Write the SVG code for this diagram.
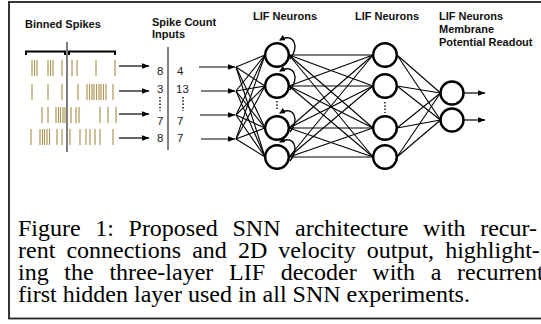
<svg xmlns="http://www.w3.org/2000/svg" width="541" height="324" viewBox="0 0 541 324">
<style>
.t{font-family:"Liberation Sans",Arial,sans-serif;font-weight:bold;font-size:11px;fill:#111}
.n{font-family:"Liberation Sans",Arial,sans-serif;font-size:11.5px;fill:#222}
.cap{font-family:"Liberation Serif","Times New Roman",serif;font-size:24px;fill:#000}
.c{fill:#fff;stroke:#000;stroke-width:2.4}
.e{stroke:#000;stroke-width:1.1;fill:none}
.a{stroke:#000;stroke-width:1.2;fill:none;marker-end:url(#ah)}
.r{stroke:#000;stroke-width:1.3;fill:none;marker-end:url(#rh)}
.d{stroke:#222;stroke-width:1.6;stroke-dasharray:1.5 1.8;fill:none}
</style>
<defs>
<marker id="ah" markerUnits="userSpaceOnUse" markerWidth="8" markerHeight="6" refX="7.5" refY="3" orient="auto"><path d="M0,0 L8,3 L0,6 z" fill="#000"/></marker>
<marker id="rh" markerUnits="userSpaceOnUse" markerWidth="6" markerHeight="6" refX="5" refY="3" orient="auto"><path d="M0,0 L6,3 L0,6 z" fill="#000"/></marker>
<g id="k"><rect x="-0.7" y="0" width="1.4" height="16" fill="#f0dfad"/><line x1="0" y1="0" x2="0" y2="16" stroke="#8a7546" stroke-width="0.7"/></g>
</defs>
<rect x="9" y="2" width="540" height="316.5" fill="#fff" stroke="#222" stroke-width="1.8"/>

<g id="titles">
<text class="t" x="25" y="28" font-size="12">Binned Spikes</text>
<text class="t" x="152" y="26">Spike Count</text>
<text class="t" x="152" y="38">Inputs</text>
<text class="t" x="253" y="20">LIF Neurons</text>
<text class="t" x="355" y="20">LIF Neurons</text>
<text class="t" x="439" y="20">LIF Neurons</text>
<text class="t" x="439" y="33">Membrane</text>
<text class="t" x="439" y="46">Potential Readout</text>
</g>

<g id="binned-spikes">
<path d="M26,55 V51.5 H65 V55 M69,55 V51.5 H115 V55" stroke="#000" stroke-width="2" fill="none"/>
<line x1="67" y1="42" x2="67" y2="152" stroke="#000" stroke-width="1"/>
<g id="row1">
<use href="#k" x="32" y="60"/><use href="#k" x="34.5" y="60"/><use href="#k" x="37" y="60"/>
<use href="#k" x="48" y="60"/><use href="#k" x="50.5" y="60"/><use href="#k" x="53" y="60"/>
<use href="#k" x="62" y="60"/><use href="#k" x="72" y="60"/><use href="#k" x="77" y="60"/><use href="#k" x="96" y="60"/><use href="#k" x="115" y="60"/>
</g>
<g id="row2">
<use href="#k" x="32" y="84"/><use href="#k" x="48" y="84"/><use href="#k" x="62" y="84"/><use href="#k" x="78" y="84"/>
<use href="#k" x="87" y="84"/><use href="#k" x="89.5" y="84"/><use href="#k" x="92" y="84"/><use href="#k" x="94" y="84"/><use href="#k" x="96.5" y="84"/><use href="#k" x="99" y="84"/><use href="#k" x="101" y="84"/><use href="#k" x="103.5" y="84"/><use href="#k" x="106" y="84"/>
<use href="#k" x="113" y="84"/>
</g>
<g id="row3">
<use href="#k" x="42" y="107"/><use href="#k" x="48" y="107"/>
<use href="#k" x="56" y="107"/><use href="#k" x="58.5" y="107"/><use href="#k" x="60.5" y="107"/><use href="#k" x="63" y="107"/><use href="#k" x="65" y="107"/>
<use href="#k" x="71" y="107"/><use href="#k" x="76" y="107"/><use href="#k" x="79" y="107"/><use href="#k" x="100" y="107"/><use href="#k" x="108" y="107"/><use href="#k" x="116" y="107"/>
</g>
<g id="row4">
<use href="#k" x="31" y="129"/>
<use href="#k" x="40" y="129"/><use href="#k" x="42.5" y="129"/><use href="#k" x="44.5" y="129"/><use href="#k" x="47" y="129"/><use href="#k" x="49.5" y="129"/>
<use href="#k" x="57" y="129"/><use href="#k" x="62" y="129"/><use href="#k" x="70" y="129"/><use href="#k" x="80" y="129"/><use href="#k" x="86" y="129"/><use href="#k" x="90" y="129"/><use href="#k" x="95" y="129"/><use href="#k" x="100" y="129"/><use href="#k" x="113" y="129"/>
</g>
</g>

<g id="spike-counts">
<line x1="168" y1="47" x2="168" y2="150" stroke="#555" stroke-width="1.5"/>
<text class="n" x="163.5" y="75" text-anchor="end">8</text><text class="n" x="177" y="75">4</text>
<text class="n" x="163.5" y="93" text-anchor="end">3</text><text class="n" x="176" y="93">13</text>
<line class="d" x1="160" y1="97" x2="160" y2="111"/><line class="d" x1="183" y1="97" x2="183" y2="111"/>
<text class="n" x="163.5" y="125" text-anchor="end">7</text><text class="n" x="177" y="125">7</text>
<text class="n" x="163.5" y="142" text-anchor="end">8</text><text class="n" x="177" y="142">7</text>
</g>

<g id="connectors">
<line class="a" x1="119" y1="66" x2="149" y2="66"/>
<line class="a" x1="119" y1="91" x2="149" y2="91"/>
<line class="a" x1="119" y1="114" x2="149" y2="114"/>
<line class="a" x1="119" y1="138" x2="149" y2="138"/>
<line class="a" x1="199" y1="67" x2="235" y2="67"/>
<line class="a" x1="201" y1="91" x2="235" y2="91"/>
<line class="a" x1="200" y1="115" x2="235" y2="115"/>
<line class="a" x1="201" y1="139" x2="235" y2="139"/>
<line class="e" x1="236" y1="67" x2="265" y2="55"/><line class="e" x1="236" y1="67" x2="265" y2="86"/><line class="e" x1="236" y1="67" x2="265" y2="128"/><line class="e" x1="236" y1="67" x2="265" y2="157"/>
<line class="e" x1="236" y1="91" x2="265" y2="55"/><line class="e" x1="236" y1="91" x2="265" y2="86"/><line class="e" x1="236" y1="91" x2="265" y2="128"/><line class="e" x1="236" y1="91" x2="265" y2="157"/>
<line class="e" x1="236" y1="115" x2="265" y2="55"/><line class="e" x1="236" y1="115" x2="265" y2="86"/><line class="e" x1="236" y1="115" x2="265" y2="128"/><line class="e" x1="236" y1="115" x2="265" y2="157"/>
<line class="e" x1="236" y1="139" x2="265" y2="55"/><line class="e" x1="236" y1="139" x2="265" y2="86"/><line class="e" x1="236" y1="139" x2="265" y2="128"/><line class="e" x1="236" y1="139" x2="265" y2="157"/>
<line class="e" x1="289" y1="55" x2="373" y2="55"/><line class="e" x1="289" y1="55" x2="373" y2="86"/><line class="e" x1="289" y1="55" x2="373" y2="128"/><line class="e" x1="289" y1="55" x2="373" y2="157"/>
<line class="e" x1="289" y1="86" x2="373" y2="55"/><line class="e" x1="289" y1="86" x2="373" y2="86"/><line class="e" x1="289" y1="86" x2="373" y2="128"/><line class="e" x1="289" y1="86" x2="373" y2="157"/>
<line class="e" x1="289" y1="128" x2="373" y2="55"/><line class="e" x1="289" y1="128" x2="373" y2="86"/><line class="e" x1="289" y1="128" x2="373" y2="128"/><line class="e" x1="289" y1="128" x2="373" y2="157"/>
<line class="e" x1="289" y1="157" x2="373" y2="55"/><line class="e" x1="289" y1="157" x2="373" y2="86"/><line class="e" x1="289" y1="157" x2="373" y2="128"/><line class="e" x1="289" y1="157" x2="373" y2="157"/>
<line class="e" x1="397" y1="55" x2="440.5" y2="93"/><line class="e" x1="397" y1="55" x2="440.5" y2="120"/>
<line class="e" x1="397" y1="86" x2="440.5" y2="93"/><line class="e" x1="397" y1="86" x2="440.5" y2="120"/>
<line class="e" x1="397" y1="128" x2="440.5" y2="93"/><line class="e" x1="397" y1="128" x2="440.5" y2="120"/>
<line class="e" x1="397" y1="157" x2="440.5" y2="93"/><line class="e" x1="397" y1="157" x2="440.5" y2="120"/>
<line class="a" x1="463" y1="93" x2="485" y2="93" stroke-width="1.8"/>
<line class="a" x1="463" y1="120" x2="485" y2="120" stroke-width="1.8"/>
<path class="r" d="M290,59 C300,47 294,32 280,40"/>
<path class="r" d="M290,90 C300,78 294,63 280,71"/>
<path class="r" d="M290,132 C300,120 294,105 280,113"/>
<path class="r" d="M290,161 C300,149 294,134 280,142"/>
</g>

<g id="layer1">
<circle id="h1a" class="c" cx="277" cy="55" r="11.8"/>
<circle id="h1b" class="c" cx="277" cy="86" r="11.8"/>
<line class="d" x1="277" y1="101" x2="277" y2="110"/>
<circle id="h1c" class="c" cx="277" cy="128" r="11.8"/>
<circle id="h1d" class="c" cx="277" cy="157" r="11.8"/>
</g>
<g id="layer2">
<circle id="h2a" class="c" cx="385" cy="55" r="11.8"/>
<circle id="h2b" class="c" cx="385" cy="86" r="11.8"/>
<line class="d" x1="385" y1="102" x2="385" y2="113"/>
<circle id="h2c" class="c" cx="385" cy="128" r="11.8"/>
<circle id="h2d" class="c" cx="385" cy="157" r="11.8"/>
</g>
<g id="output">
<circle id="o1" class="c" cx="452" cy="93" r="11.5"/>
<circle id="o2" class="c" cx="452" cy="120" r="11.5"/>
</g>

<g id="caption">
<text class="cap" x="18" y="236" word-spacing="8.6">Figure 1: Proposed SNN architecture with recur-</text>
<text class="cap" x="18" y="258" word-spacing="5.1">rent connections and 2D velocity output, highlight-</text>
<text class="cap" x="18" y="280" word-spacing="9.7">ing the three-layer LIF decoder with a recurrent</text>
<text class="cap" x="18" y="302">first hidden layer used in all SNN experiments.</text>
</g>
</svg>
